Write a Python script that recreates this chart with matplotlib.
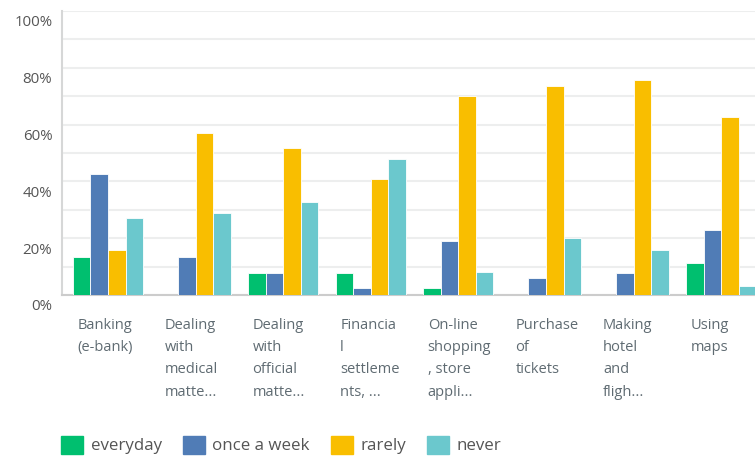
import matplotlib
matplotlib.use("Agg")
import matplotlib.pyplot as plt
from matplotlib.patches import Patch
from matplotlib.transforms import ScaledTranslation
import numpy as np

# Survey answers, share of respondents (%)
categories = ["Banking\n(e-bank)", "Dealing\nwith\nmedical\nmatte...",
              "Dealing\nwith\nofficial\nmatte...", "Financia\nl\nsettleme\nnts, ...",
              "On-line\nshopping\n, store\nappli...", "Purchase\nof\ntickets",
              "Making\nhotel\nand\nfligh...", "Using\nmaps"]
series = ["everyday", "once a week", "rarely", "never"]
everyday = [13.4, 0, 7.7, 7.7, 2.6, 0, 0, 11.3]
once_a_week = [42.7, 13.4, 7.7, 2.6, 19.0, 5.9, 7.9, 23.0]
rarely = [16.0, 57.0, 51.6, 40.7, 70.0, 73.5, 75.6, 62.6]
never = [27.0, 29.0, 32.6, 48.0, 8.0, 20.0, 16.0, 3.0]
colors = ["#00BF6F", "#507CB6", "#F9BE00", "#6BC8CD"]
yticks = [0, 20, 40, 60, 80, 100]

plt.rcParams['font.family'] = ['Open Sans', 'DejaVu Sans']

fig = plt.figure(figsize=(7.55, 4.57), dpi=100)
ax = fig.add_axes([62 / 755, 162 / 457, 693 / 755, 284 / 457])

x = np.arange(len(categories))
w = 0.2
for i, (vals, c) in enumerate(zip([everyday, once_a_week, rarely, never], colors)):
    ax.bar(x + (i - 1.5) * w, vals, width=w, color=c, edgecolor="white",
           linewidth=0.6, zorder=3, label=series[i])

ax.set_xlim(-0.525, 7.386)
ax.set_ylim(0, 100)
ax.set_yticks(yticks)
ax.set_yticklabels([f"{v}%" for v in yticks], color="#555555", fontsize=10.8)
ax.set_yticks(np.arange(10, 100, 20), minor=True)
ax.grid(axis="y", which="both", color="#EDEEEE", linewidth=1.5, zorder=0)
ax.tick_params(axis="y", which="both", length=0, pad=7)
ax.set_xticks([])
for lab in ax.get_yticklabels():
    lab.set_transform(lab.get_transform() + ScaledTranslation(0, -0.1, fig.dpi_scale_trans))

for s in ["top", "right"]:
    ax.spines[s].set_visible(False)
ax.spines["left"].set_color("#D6D7D7")
ax.spines["left"].set_linewidth(1.5)
ax.spines["bottom"].set_color("#CCCCCC")
ax.spines["bottom"].set_linewidth(1.5)

# category labels, left aligned under each group
for xi, lab in zip(x, categories):
    ax.text(xi - 2 * w + 0.05, -0.08, lab, transform=ax.get_xaxis_transform(),
            ha="left", va="top", fontsize=10.5, color="#5F6B72", linespacing=1.66)

handles = [Patch(facecolor=c, edgecolor=c, label=s) for c, s in zip(colors, series)]
fig.legend(handles=handles, loc="center left", bbox_to_anchor=(46 / 755, 1 - 445 / 457),
           ncol=4, frameon=False, fontsize=12.2, handlelength=1.3, handleheight=1.3,
           handletextpad=0.45, columnspacing=1.22, labelcolor="#555555")

fig.savefig("out.png", dpi=100)
